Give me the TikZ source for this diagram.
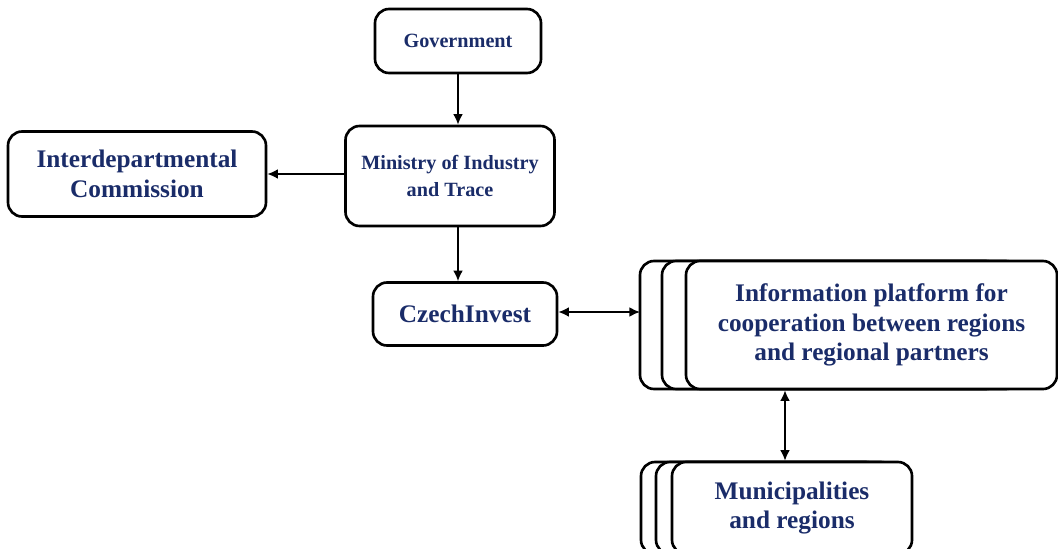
\documentclass[tikz,border=0pt]{standalone}
\usepackage{fontspec}
\setmainfont{Liberation Serif}
\usepackage{xcolor}
\usepackage{tikz}
\usetikzlibrary{arrows,arrows.meta}

\definecolor{navy}{RGB}{26,44,105}

\begin{document}
\begin{tikzpicture}[x=0.02cm,y=-0.02cm,
    box/.style={draw,line width=1.5pt,rounded corners=8pt,fill=white,
        align=center,text=navy,font=\bfseries,inner sep=0pt},
    big/.style={font=\bfseries\fontsize{14.4}{17}\selectfont},
    small/.style={font=\bfseries\fontsize{11.5}{15}\selectfont},
    link/.style={line width=0.9pt,-{Latex[length=6pt,width=5.5pt]}},
    both/.style={line width=0.9pt,{Latex[length=6pt,width=5.5pt]}-{Latex[length=6pt,width=5.5pt]}}]
    \useasboundingbox (0,0) rectangle (1058,548);

    \node[box,small,minimum width=166*0.02cm,minimum height=64*0.02cm] (gov) at (458,41) {Government};
    \node[box,small,minimum width=209*0.02cm,minimum height=100*0.02cm] (min) at (450,176) {Ministry of Industry\\and Trace};
    \node[box,big,minimum width=258*0.02cm,minimum height=85*0.02cm] (com) at (137,174) {Interdepartmental\\Commission};
    \node[box,big,minimum width=184*0.02cm,minimum height=63*0.02cm] (ci) at (465,314) {CzechInvest};

    % stacked boxes behind
    \draw[line width=1.5pt,rounded corners=8pt,fill=white] (640,261) rectangle (1000,389);
    \draw[line width=1.5pt,rounded corners=8pt,fill=white] (662,261) rectangle (1020,389);
    \node[box,big,minimum width=371*0.02cm,minimum height=128*0.02cm] (info) at (871.5,325) {Information platform for\\cooperation between regions\\and regional partners};

    \draw[line width=1.5pt,rounded corners=8pt,fill=white] (641,462) rectangle (880,554);
    \draw[line width=1.5pt,rounded corners=8pt,fill=white] (656,462) rectangle (895,554);
    \node[box,big,minimum width=240*0.02cm,minimum height=92*0.02cm] (mun) at (792,508) {Municipalities\\and regions};

    \draw[link] (gov.south -| 458,0) -- (min.north -| 458,0);
    \draw[link] (min.west |- 0,174) -- (com.east |- 0,174);
    \draw[link] (min.south -| 458,0) -- (ci.north -| 458,0);
    \draw[both] (ci.east |- 0,312) -- (640,312);
    \draw[both] (info.south -| 785,0) -- (mun.north -| 785,0);
\end{tikzpicture}
\end{document}
